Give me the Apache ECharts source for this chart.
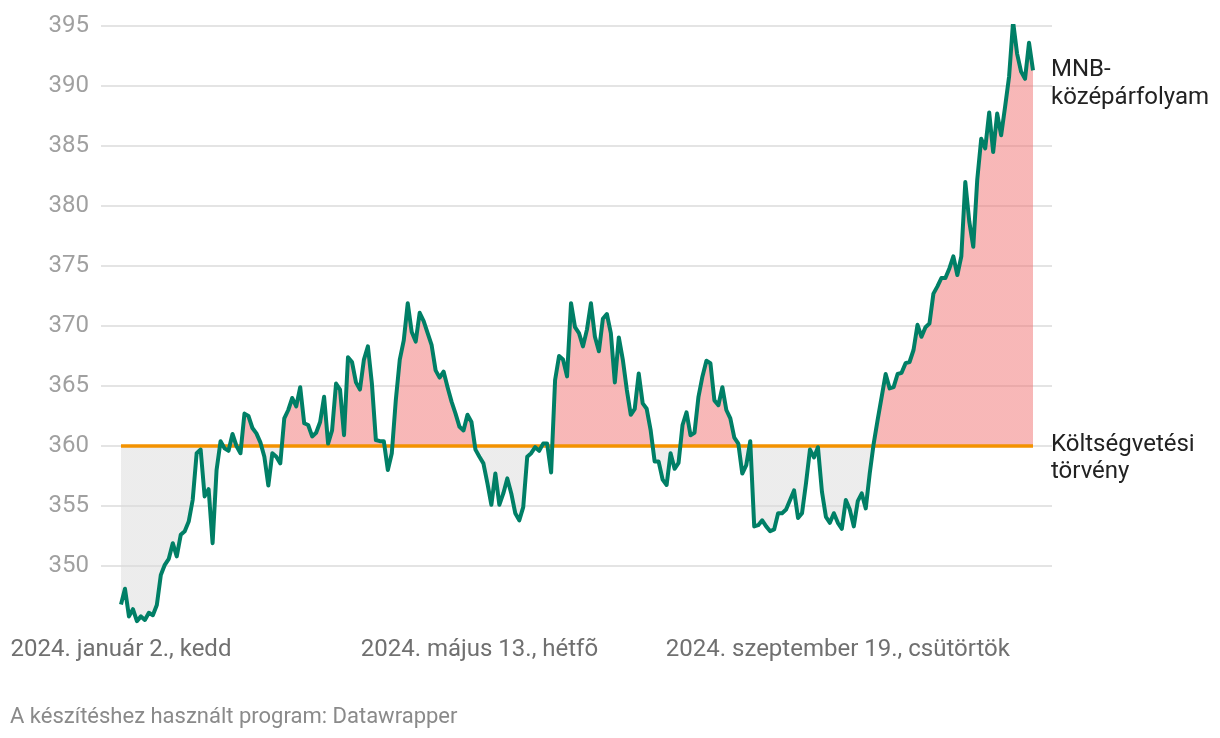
<!DOCTYPE html>
<html>
<head>
<meta charset="utf-8">
<script src="https://cdn.jsdelivr.net/npm/echarts@6/dist/echarts.min.js"></script>
<style>
html,body{margin:0;padding:0;background:#fff;}
#chart{width:1220px;height:738px;}
</style>
</head>
<body>
<div id="chart"></div>
<script>
// MNB középárfolyam, one value per trading day from 2024-01-02
const rates = [
346.8,348.1,345.8,346.4,345.4,345.8,345.5,346.1,345.9,346.75,
349.25,350.1,350.6,351.9,350.8,352.6,352.9,353.7,355.5,359.4,
359.7,355.8,356.4,351.9,358,360.4,359.8,359.6,361,360,
359.4,362.7,362.5,361.5,361.05,360.3,359.1,356.7,359.4,359.1,
358.55,362.3,363,364,363.3,364.9,361.9,361.75,360.8,361.1,
362,364.1,360.2,361.3,365.2,364.7,360.9,367.4,367,365.3,
364.7,367.2,368.3,365.2,360.5,360.4,360.4,358,359.4,363.8,
367.2,368.8,371.9,369.5,368.7,371.1,370.4,369.4,368.4,366.3,
365.7,366.2,364.9,363.7,362.7,361.6,361.3,362.6,362,359.7,
359.1,358.55,356.9,355.1,357.7,355.1,356.05,357.3,356.05,354.4,
353.8,354.9,359.1,359.4,359.9,359.6,360.2,360.2,357.8,365.5,
367.5,367.2,365.8,371.9,369.9,369.4,368.3,369.7,371.9,369.1,
367.9,370.6,371,369.4,365.3,369.05,367.2,364.7,362.6,363.1,
366.05,363.55,363.1,361.3,358.7,358.7,357.2,356.75,359.4,358.1,
358.6,361.75,362.8,360.9,361.1,364.1,365.8,367.1,366.9,363.8,
363.4,364.9,363,362.3,360.7,360.2,357.7,358.4,360.4,353.3,
353.4,353.8,353.3,352.9,353.05,354.4,354.4,354.7,355.5,356.3,
354,354.4,356.9,359.7,359.05,359.9,356.2,354.1,353.6,354.4,
353.6,353.1,355.5,354.7,353.3,355.4,356.05,354.8,357.7,360.2,
362.2,364.1,366,364.8,364.9,366,366.1,366.9,367.0,368,
370.1,369.1,369.9,370.2,372.7,373.3,374,374,374.8,375.8,
374.25,375.8,382,378.7,376.6,382.2,385.6,384.8,387.8,384.5,
387.7,385.9,388.3,390.8,395.35,392.7,391.2,390.6,393.6,391.3
];
const budgetRate = 360;            // Költségvetési törvény
const tickIndices = [0, 90, 180];  // positions (trading day index) of x labels
const tickLabels = ['2024. január 2., kedd', '2024. május 13., hétfõ', '2024. szeptember 19., csütörtök'];
const seriesNames = ['MNB-\nközépárfolyam', 'Költségvetési\ntörvény'];
const sourceText = 'A készítéshez használt program: Datawrapper';

const lineData = rates.map((v, i) => [i, v]);
const lastIdx = rates.length - 1;
const budgetData = [[0, budgetRate], [lastIdx, budgetRate]];

const FONT = 'Roboto, "Noto Sans", sans-serif';
const chart = echarts.init(document.getElementById('chart'), null, {renderer: 'canvas'});

const gridColors = ['rgba(0,0,0,0)'];
for (let k = 0; k < 10; k++) gridColors.push('#e4e4e4');

chart.setOption({
  animation: false,
  backgroundColor: '#ffffff',
  textStyle: {fontFamily: FONT},
  title: {
    text: sourceText,
    left: 5, top: 701,
    textStyle: {fontFamily: FONT, fontSize: 22, fontWeight: 'normal', color: '#8a8a8a'}
  },
  grid: {left: 101, right: 168, top: 26, bottom: 112, containLabel: false},
  xAxis: {
    type: 'value',
    min: -5.02, max: 233.77,
    axisLine: {show: false},
    axisTick: {show: false},
    splitLine: {show: false},
    axisLabel: {
      customValues: tickIndices,
      margin: 12,
      fontFamily: FONT, fontSize: 24, color: '#707070',
      formatter: function (v) {
        const k = tickIndices.indexOf(Math.round(v));
        return k >= 0 ? tickLabels[k] : '';
      }
    }
  },
  yAxis: {
    type: 'value',
    min: 345, max: 395, interval: 5,
    axisLine: {show: false},
    axisTick: {show: false},
    axisLabel: {showMinLabel: false, margin: 12, fontFamily: FONT, fontSize: 24, color: '#a0a0a0', padding: [3, 0, 0, 0]},
    splitLine: {lineStyle: {color: gridColors, width: 2}}
  },
  visualMap: {
    type: 'piecewise', show: false, dimension: 1, seriesIndex: 0,
    pieces: [
      {gt: budgetRate, lte: 420, color: '#f07070'},
      {gte: 320, lte: budgetRate, color: '#dadada'}
    ],
    outOfRange: {color: '#dadada'}
  },
  series: [
    {
      type: 'line', data: lineData, showSymbol: false, silent: true,
      lineStyle: {width: 0, opacity: 0},
      areaStyle: {origin: budgetRate, opacity: 0.5},
      z: 1
    },
    {
      type: 'line', name: seriesNames[1], data: budgetData, showSymbol: false, silent: true,
      lineStyle: {color: '#f39200', width: 3.5},
      itemStyle: {color: '#f39200'},
      endLabel: {
        show: true, formatter: seriesNames[1], distance: 18, offset: [0, 12],
        fontFamily: FONT, fontSize: 24, color: '#222', lineHeight: 27, align: 'left'
      },
      z: 2
    },
    {
      type: 'line', name: seriesNames[0], data: lineData, showSymbol: false, silent: true,
      lineStyle: {color: '#007f66', width: 4, join: 'round'},
      itemStyle: {color: '#007f66'},
      endLabel: {
        show: true, formatter: seriesNames[0], distance: 18, offset: [0, 14],
        fontFamily: FONT, fontSize: 24, color: '#222', lineHeight: 28, align: 'left'
      },
      z: 3
    }
  ]
});
</script>
</body>
</html>
